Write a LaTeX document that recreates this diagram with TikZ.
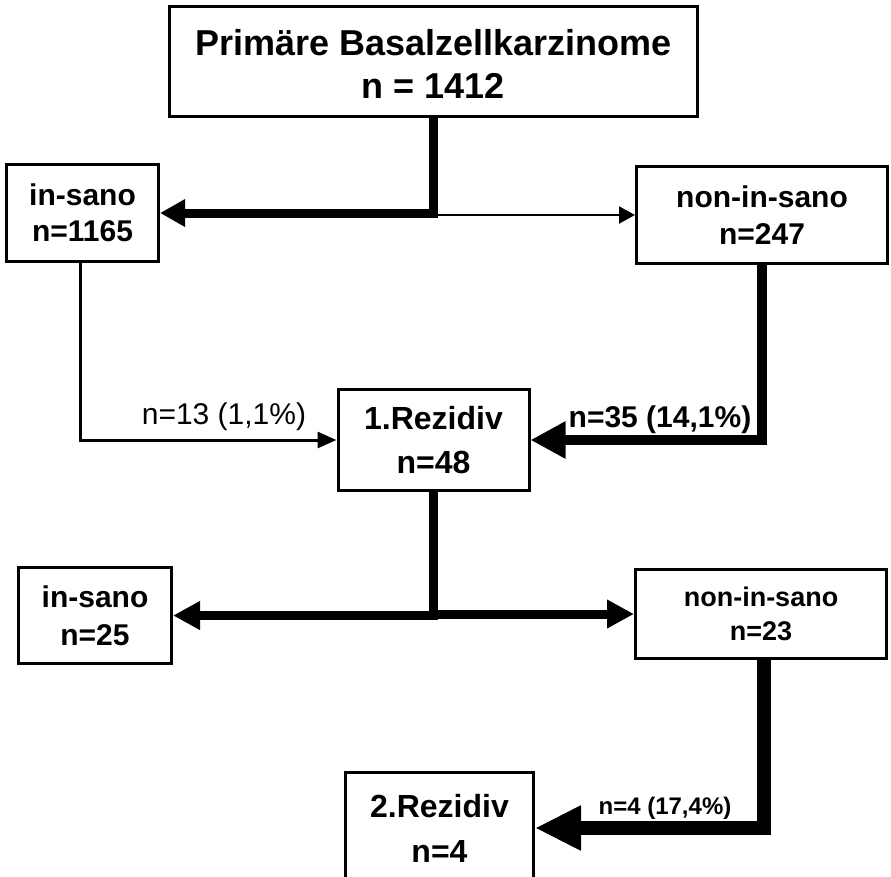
\documentclass[tikz,border=0pt]{standalone}
\usepackage{fontspec}
\setmainfont{Liberation Sans}
\usetikzlibrary{arrows.meta}
\begin{document}
\begin{tikzpicture}[x=1pt,y=-1pt,
  box/.style={draw, line width=3pt, align=center, inner sep=0pt},
  conn/.style={line join=miter, line cap=butt},
  lbl/.style={anchor=base, inner sep=0pt}
]
\useasboundingbox (0,0) rectangle (891,876);
% boxes
\node[box, minimum width=528pt, minimum height=110pt,
      font=\bfseries\fontsize{36}{43}\selectfont] (top) at (433.5,61.5)
      {\rule{0pt}{30pt}Primäre Basalzellkarzinome\\n = 1412};
\node[box, minimum width=152pt, minimum height=97pt,
      font=\bfseries\fontsize{30}{36}\selectfont] (ins1) at (82.5,213)
      {in-sano\\n=1165};
\node[box, minimum width=251pt, minimum height=97pt,
      font=\bfseries\fontsize{30}{37}\selectfont] (nis1) at (762,215)
      {non-in-sano\\n=247};
\node[box, minimum width=191pt, minimum height=101pt,
      font=\bfseries\fontsize{32}{44}\selectfont] (rez1) at (433.5,440)
      {1.Rezidiv\\n=48};
\node[box, minimum width=153pt, minimum height=96pt,
      font=\bfseries\fontsize{30}{38}\selectfont] (ins2) at (95,615.5)
      {in-sano\\n=25};
\node[box, minimum width=251pt, minimum height=89pt,
      font=\bfseries\fontsize{27}{34}\selectfont] (nis2) at (761,614)
      {non-in-sano\\n=23};
\node[box, minimum width=188pt, minimum height=111pt,
      font=\bfseries\fontsize{32}{45}\selectfont] (rez2) at (439.5,828)
      {2.Rezidiv\\n=4};
% connectors
\coordinate (b1) at (top.south |- nis1.west);
\draw[conn, line width=9pt, -{Triangle[length=25pt,width=26pt]}]
  (top.south) |- (ins1.east);
\draw[conn, line width=2pt, -{Triangle[length=16pt,width=17pt]}]
  (b1) -- (nis1.west);
\draw[conn, line width=3pt, -{Triangle[length=19pt,width=16pt]}]
  (ins1.south -| 80,0) |- (rez1.west);
\draw[conn, line width=10pt, -{Triangle[length=35pt,width=35pt]}]
  (nis1.south) |- (rez1.east);
\draw[conn, line width=9pt, -{Triangle[length=27pt,width=27pt]}]
  (rez1.south) |- (ins2.east);
\draw[conn, line width=9pt, -{Triangle[length=27pt,width=27pt]}]
  (rez1.south) |- (nis2.west);
\draw[conn, line width=14pt, -{Triangle[length=46pt,width=42pt]}]
  (nis2.south -| 764,0) |- (rez2.east);
% labels
\node[lbl, font=\fontsize{30}{30}\selectfont] (l13) at (224,424) {n=13 (1,1\%)};
\node[lbl, font=\bfseries\fontsize{30}{30}\selectfont] (l35) at (660,427) {n=35 (14,1\%)};
\node[lbl, font=\bfseries\fontsize{24}{24}\selectfont] (l4) at (665,814) {n=4 (17,4\%)};
\end{tikzpicture}
\end{document}
